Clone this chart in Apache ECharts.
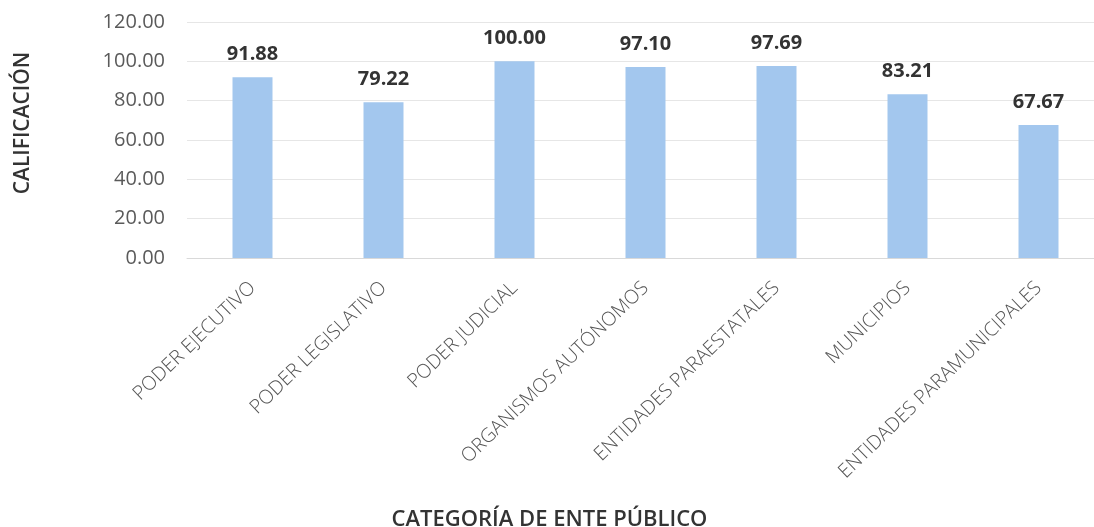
<!DOCTYPE html>
<html>
<head>
<meta charset="utf-8">
<script src="https://cdn.jsdelivr.net/npm/echarts@6/dist/echarts.min.js"></script>
<style>
html,body{margin:0;padding:0;background:#fff;}
#chart{width:1094px;height:527px;}
</style>
</head>
<body>
<div id="chart"></div>
<script>
const categories = ['PODER EJECUTIVO','PODER LEGISLATIVO','PODER JUDICIAL','ORGANISMOS AUTÓNOMOS','ENTIDADES PARAESTATALES','MUNICIPIOS','ENTIDADES PARAMUNICIPALES'];
const values = [91.88, 79.22, 100.00, 97.10, 97.69, 83.21, 67.67];
const yAxisTitle = 'CALIFICACIÓN';
const xAxisTitle = 'CATEGORÍA DE ENTE PÚBLICO';

const chart = echarts.init(document.getElementById('chart'));
chart.setOption({
  backgroundColor: '#ffffff',
  animation: false,
  grid: { left: 187, right: -10, top: 22, bottom: 269, containLabel: false, outerBoundsMode: 'none' },
  xAxis: {
    type: 'category',
    data: categories,
    name: xAxisTitle,
    nameLocation: 'middle',
    nameGap: 251,
    nameTextStyle: { fontFamily: 'Open Sans', fontSize: 22, fontWeight: 600, color: '#333333', padding: [0, 192, 0, 0] },
    axisLine: { lineStyle: { color: '#d9d9d9' } },
    axisTick: { show: false },
    axisLabel: { rotate: 44, margin: 27, fontFamily: 'Open Sans', fontSize: 19.5, fontWeight: 300, color: '#555555' }
  },
  yAxis: {
    type: 'value',
    min: 0, max: 120, interval: 20,
    name: yAxisTitle,
    nameLocation: 'middle',
    nameRotate: 90,
    nameGap: 153,
    nameTextStyle: { fontFamily: 'Open Sans', fontSize: 21, fontWeight: 600, color: '#333333', padding: [0, 0, 0, 34] },
    axisLine: { show: false },
    axisTick: { show: false },
    axisLabel: { margin: 22, fontFamily: 'Open Sans', fontSize: 20, color: '#5a5a5a', formatter: v => v.toFixed(2) },
    splitLine: { lineStyle: { color: '#e6e6e6' } }
  },
  series: [{
    type: 'bar',
    data: values,
    barWidth: 40,
    itemStyle: { color: '#a3c7ee' },
    label: {
      show: true, position: 'top', distance: 13,
      formatter: p => p.value.toFixed(2),
      fontFamily: 'Open Sans', fontSize: 20, fontWeight: 'bold', color: '#333333'
    }
  }]
});
</script>
</body>
</html>
